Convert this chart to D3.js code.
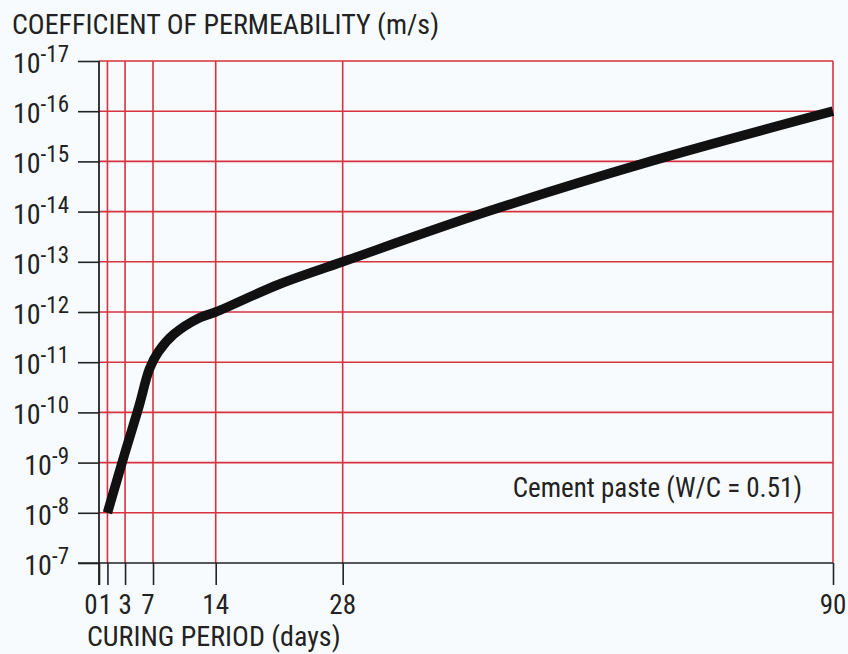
<!DOCTYPE html>
<html>
<head>
<meta charset="utf-8">
<script src="https://cdn.jsdelivr.net/npm/d3@7"></script>
<style>
  html, body { margin: 0; padding: 0; background: #f7fbfd; }
  svg { display: block; }
  text { font-family: "Liberation Sans Narrow", "Arial Narrow", "Roboto Condensed", "Liberation Sans", sans-serif; fill: #222; }
</style>
</head>
<body>
<svg id="chart" width="848" height="654"></svg>
<script>
// ---- data ----
const dayTicks = [0, 1, 3, 7, 14, 28, 90];
const exponentTicks = [-17, -16, -15, -14, -13, -12, -11, -10, -9, -8, -7];
const curingDays = [1, 3, 5, 6.5, 7.6, 9.3, 12.2, 14, 21, 28, 46.3, 66.9, 90];
const permeability = [1e-8, 6.3e-10, 7.5e-11, 1.35e-11, 6.2e-12, 2.8e-12, 1.3e-12, 1e-12, 2.8e-13, 1e-13, 1e-14, 1e-15, 1e-16];
const titleY = "COEFFICIENT OF PERMEABILITY (m/s)";
const titleX = "CURING PERIOD (days)";
const note = "Cement paste (W/C = 0.51)";

// ---- layout ----
const W = 848, H = 654;
const m = { left: 99, right: 15, top: 61, bottom: 91 };
const iw = W - m.left - m.right, ih = H - m.top - m.bottom;
// the original's day axis is drawn unevenly; fractions of plot width at each tick
const dayTickFrac = [0, 0.0115, 0.0355, 0.0736, 0.159, 0.332, 1];
// small horizontal nudges of the crowded day labels, as in the original
const dayLabelShift = { 0: -8, 1: -2, 3: 0, 7: -5, 14: 0, 28: 0, 90: 0 };

const svg = d3.select("#chart");
const g = svg.append("g").attr("transform", `translate(${m.left},${m.top})`);

const x = d3.scaleLinear().domain(dayTicks).range(dayTickFrac.map(f => f * iw));
const y = d3.scaleLog().domain([1e-17, 1e-7]).range([0, ih]);

const red = "#d8323e", black = "#222";

// horizontal grid lines (red) except bottom axis
g.selectAll("line.hg").data(exponentTicks.slice(0, -1)).join("line")
  .attr("x1", 0).attr("x2", iw)
  .attr("y1", d => y(Math.pow(10, d))).attr("y2", d => y(Math.pow(10, d)))
  .attr("stroke", red).attr("stroke-width", 1.6);

// vertical grid lines (red) except the y axis
g.selectAll("line.vg").data(dayTicks.slice(1)).join("line")
  .attr("x1", d => x(d)).attr("x2", d => x(d))
  .attr("y1", 0).attr("y2", ih)
  .attr("stroke", red).attr("stroke-width", 1.6);

// y axis (black) with left ticks
const yAxis = d3.axisLeft(y).tickValues(exponentTicks.map(e => Math.pow(10, e)))
  .tickSize(21).tickFormat("");
const ya = g.append("g").call(yAxis);
ya.select(".domain").remove();
ya.selectAll(".tick line").attr("stroke", black).attr("stroke-width", 1.6);
g.append("line").attr("x1", 0).attr("x2", 0).attr("y1", 0).attr("y2", ih + 22)
  .attr("stroke", black).attr("stroke-width", 1.8);

// x axis (black) with downward ticks
const xAxis = d3.axisBottom(x).tickValues(dayTicks).tickSize(22).tickFormat("");
const xa = g.append("g").attr("transform", `translate(0,${ih})`).call(xAxis);
xa.select(".domain").remove();
xa.selectAll(".tick line").attr("stroke", black).attr("stroke-width", 1.6);
g.append("line").attr("x1", -21).attr("x2", iw).attr("y1", ih).attr("y2", ih)
  .attr("stroke", black).attr("stroke-width", 1.6);

// y tick labels 10^n
const yl = g.selectAll("text.yl").data(exponentTicks).join("text")
  .attr("class", "yl")
  .attr("x", -30)
  .attr("y", d => y(Math.pow(10, d)) + 12)
  .attr("text-anchor", "end")
  .style("font-size", "28px");
yl.append("tspan").text("10");
yl.append("tspan").attr("dy", -11).style("font-size", "23px").text(d => "-" + Math.abs(d));

// x tick labels
g.selectAll("text.xl").data(dayTicks).join("text")
  .attr("x", d => x(d) + dayLabelShift[d]).attr("y", ih + 51)
  .attr("text-anchor", "middle")
  .style("font-size", "27px")
  .text(d => d);

// titles
svg.append("text").attr("x", 12).attr("y", 34).style("font-size", "28px").text(titleY);
svg.append("text").attr("x", 87).attr("y", 646).style("font-size", "28px").text(titleX);
g.append("text").attr("x", iw - 31).attr("y", y(1e-9) + 34)
  .attr("text-anchor", "end").style("font-size", "27px").text(note);

// curve
const line = d3.line()
  .x((d, i) => x(curingDays[i]))
  .y(d => y(d))
  .curve(d3.curveCatmullRom.alpha(0.5));
g.append("path").datum(permeability)
  .attr("d", line)
  .attr("fill", "none").attr("stroke", "#111").attr("stroke-width", 9.5)
  .attr("stroke-linejoin", "round").attr("stroke-linecap", "butt");
</script>
</body>
</html>
